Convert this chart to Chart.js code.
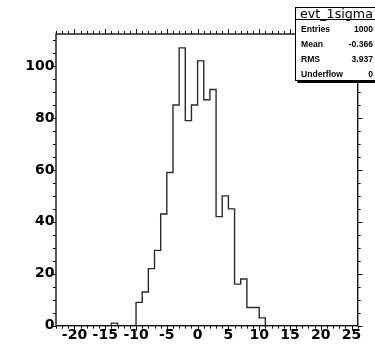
<!DOCTYPE html>
<html>
<head>
<meta charset="utf-8">
<script src="https://cdn.jsdelivr.net/npm/chart.js@4"></script>
<style>
  html, body { margin: 0; padding: 0; background: #fff; }
  canvas { display: block; }
</style>
</head>
<body>
<canvas id="histo" width="375" height="345"></canvas>
<script>
// histogram evt_1sigma, bins of width 1 (low edges)
const binLowEdges = [-14, -13, -12, -11, -10, -9, -8, -7, -6, -5, -4, -3, -2, -1, 0, 1, 2, 3, 4, 5, 6, 7, 8, 9, 10];
const binCounts = [1, 0, 0, 0, 9, 13, 22, 29, 43, 59, 85, 107, 79, 85, 102, 87, 91, 42, 50, 45, 16, 18, 7, 7, 3];
const binWidth = 1;
const xRange = [-23, 26];
const yMax = 112.35;

const xTickLabels = [-20, -15, -10, -5, 0, 5, 10, 15, 20, 25];
const yTickLabels = [0, 20, 40, 60, 80, 100];

const statsTitle = 'evt_1sigma';
const statsNames = ['Entries', 'Mean', 'RMS', 'Underflow'];
const statsValues = ['1000', '-0.366', '3.937', '0'];

// contour du histogramme (points aux bords bas des bins)
function contourHisto() {
    const pts = [{ x: xRange[0], y: 0 }];
    binLowEdges.forEach((x, i) => pts.push({ x: x, y: binCounts[i] }));
    pts.push({ x: binLowEdges[binLowEdges.length - 1] + binWidth, y: 0 });
    pts.push({ x: xRange[1], y: 0 });
    return pts;
}

const labelFont = { family: 'DejaVu Sans', weight: 'bold', size: 14, lineHeight: 1.2 };

// cadre, graduations et boite de stats facon ROOT
const cadreRoot = {
    id: 'cadreRoot',
    afterDatasetsDraw(chart) {
        const ctx = chart.ctx;
        const a = chart.chartArea;
        const sx = chart.scales.x, sy = chart.scales.y;
        ctx.save();
        ctx.strokeStyle = '#111';
        ctx.lineWidth = 1.4;
        ctx.strokeRect(a.left, a.top, a.right - a.left, a.bottom - a.top);

        ctx.lineWidth = 1;
        ctx.beginPath();
        for (let v = Math.ceil(xRange[0]); v <= xRange[1]; v++) {
            const px = Math.round(sx.getPixelForValue(v)) + 0.5;
            const len = v % 5 === 0 ? 5 : 3;
            ctx.moveTo(px, a.bottom); ctx.lineTo(px, a.bottom + len);
            ctx.moveTo(px, a.top); ctx.lineTo(px, a.top - len);
        }
        for (let v = 0; v <= yMax; v += 5) {
            const py = Math.round(sy.getPixelForValue(v)) + 0.5;
            const len = v % 20 === 0 ? 5 : 3;
            ctx.moveTo(a.left, py); ctx.lineTo(a.left - len, py);
            ctx.moveTo(a.right, py); ctx.lineTo(a.right + len, py);
        }
        ctx.stroke();
        ctx.restore();
    },
    afterDraw(chart) {
        const ctx = chart.ctx;
        const bx = 295.5, by = 7.5, bw = 90, bh = 73;
        ctx.save();
        ctx.fillStyle = '#000';
        ctx.fillRect(bx + 2, by + bh, bw, 2.5);
        ctx.fillStyle = '#fff';
        ctx.fillRect(bx, by, bw, bh);
        ctx.strokeStyle = '#000';
        ctx.lineWidth = 1;
        ctx.strokeRect(bx, by, bw, bh);
        ctx.beginPath();
        ctx.moveTo(bx, 19.5); ctx.lineTo(bx + bw, 19.5);
        ctx.stroke();

        // titre
        ctx.fillStyle = '#000';
        ctx.font = '11.5px "DejaVu Sans"';
        const w = ctx.measureText(statsTitle).width;
        ctx.save();
        ctx.translate(300, 17.5);
        ctx.scale(73 / w, 1);
        ctx.textAlign = 'left';
        ctx.textBaseline = 'alphabetic';
        ctx.fillText(statsTitle, 0, 0);
        ctx.restore();

        ctx.font = 'bold 8.6px "Liberation Sans"';
        statsNames.forEach((nom, i) => {
            const yb = 32 + i * 15;
            ctx.textAlign = 'left';
            ctx.fillText(nom, 301, yb);
            ctx.textAlign = 'right';
            ctx.fillText(statsValues[i], 373, yb);
        });
        ctx.restore();
    }
};

new Chart(document.getElementById('histo'), {
    type: 'line',
    data: {
        datasets: [{
            data: contourHisto(),
            stepped: 'before',
            borderColor: '#2a2a2a',
            borderWidth: 1.4,
            pointRadius: 0,
            fill: false
        }]
    },
    options: {
        responsive: false,
        animation: false,
        devicePixelRatio: 1,
        layout: { padding: { left: 0, top: 34, right: 17.3, bottom: 0 } },
        plugins: { legend: { display: false }, tooltip: { enabled: false } },
        scales: {
            x: {
                type: 'linear',
                min: xRange[0],
                max: xRange[1],
                grid: { display: false, drawTicks: false },
                border: { display: false },
                ticks: { font: labelFont, color: '#000', padding: 1, maxRotation: 0, autoSkip: false },
                afterBuildTicks: scale => { scale.ticks = xTickLabels.map(v => ({ value: v })); },
                afterFit: scale => { scale.height = 19.3; }
            },
            y: {
                min: 0,
                max: yMax,
                grid: { display: false, drawTicks: false },
                border: { display: false },
                ticks: { font: labelFont, color: '#000', padding: 1.5, autoSkip: false },
                afterBuildTicks: scale => { scale.ticks = yTickLabels.map(v => ({ value: v })); },
                afterFit: scale => { scale.width = 56; }
            }
        }
    },
    plugins: [cadreRoot]
});
</script>
</body>
</html>
